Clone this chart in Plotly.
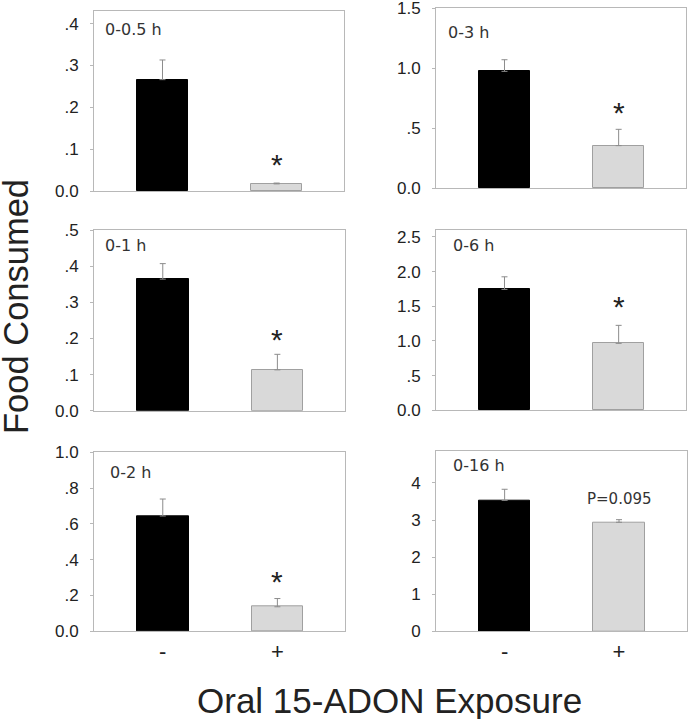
import plotly.graph_objects as go

W, H = 688, 719

# ---- data ----
panels = ["0-0.5 h", "0-1 h", "0-2 h", "0-3 h", "0-6 h", "0-16 h"]
groups = ["-", "+"]
control_means = [0.266, 0.364, 0.644, 0.972, 1.744, 3.53]
control_err = [0.047, 0.043, 0.095, 0.097, 0.181, 0.30]
adon_means = [0.017, 0.113, 0.137, 0.353, 0.965, 2.94]
adon_err = [0.002, 0.043, 0.046, 0.136, 0.26, 0.07]
sig_labels = ["*", "*", "*", "*", "*", "P=0.095"]
sig_y = [0.076, 0.211, 0.307, 0.667, 1.575, 3.57]
y_max = [0.43, 0.5, 1.0, 1.5, 2.6, 4.87]
y_tickvals = [
    [0, 0.1, 0.2, 0.3, 0.4],
    [0, 0.1, 0.2, 0.3, 0.4, 0.5],
    [0, 0.2, 0.4, 0.6, 0.8, 1.0],
    [0, 0.5, 1.0, 1.5],
    [0, 0.5, 1.0, 1.5, 2.0, 2.5],
    [0, 1, 2, 3, 4],
]
y_ticktext = [
    ["0.0", ".1", ".2", ".3", ".4"],
    ["0.0", ".1", ".2", ".3", ".4", ".5"],
    ["0.0", ".2", ".4", ".6", ".8", "1.0"],
    ["0.0", ".5", "1.0", "1.5"],
    ["0.0", ".5", "1.0", "1.5", "2.0", "2.5"],
    ["0", "1", "2", "3", "4"],
]
x_title = "Oral 15-ADON Exposure"
y_title = "Food Consumed"

# ---- layout geometry (pixels) ----
# (left, right, top, bottom) frame of each panel
frames = [
    (94, 344, 11, 191),
    (94, 345, 230, 410.7),
    (94, 345, 452.3, 631.3),
    (436, 686, 8, 188),
    (436, 686, 230, 410.3),
    (436, 686.5, 450.7, 631.3),
]
label_pos = [(103, 30), (103, 245), (108, 472), (446, 32), (451, 245), (451, 465)]

FRAME = "#b8b8b8"
TXT = "#222222"
FONT = "Liberation Sans, Arial, sans-serif"

fig = go.Figure()
layout = {}
annotations = []
for i in range(6):
    sfx = "" if i == 0 else str(i + 1)
    xa, ya = "x" + sfx, "y" + sfx
    L, R, T, B = frames[i]
    fig.add_trace(go.Bar(
        x=[0, 1], y=[control_means[i], adon_means[i]],
        width=0.45,
        marker=dict(color=["#000000", "#d9d9d9"],
                    line=dict(color=["#000000", "#a0a0a0"], width=1)),
        error_y=dict(type="data", symmetric=False,
                     array=[control_err[i], adon_err[i]], arrayminus=[0, 0],
                     color="#8c8c8c", thickness=1, width=3),
        xaxis=xa, yaxis=ya, showlegend=False, hoverinfo="skip",
    ))
    bottom_row = i in (2, 5)
    layout["xaxis" + sfx] = dict(
        domain=[L / W, R / W], anchor=ya, range=[-0.6, 1.59],
        showline=True, mirror=True, linecolor=FRAME, linewidth=1,
        showgrid=False, zeroline=False, ticks="",
        tickvals=[0, 1], ticktext=groups if bottom_row else ["", ""],
        showticklabels=bottom_row, automargin=False,
        tickfont=dict(size=22, color=TXT, family=FONT),
        fixedrange=True,
    )
    layout["yaxis" + sfx] = dict(
        domain=[1 - B / H, 1 - T / H], anchor=xa, range=[0, y_max[i]],
        showline=True, mirror=True, linecolor=FRAME, linewidth=1,
        showgrid=False, zeroline=False, automargin=False,
        ticks="outside", ticklen=3, tickcolor=FRAME,
        tickvals=y_tickvals[i], ticktext=y_ticktext[i],
        tickfont=dict(size=17, color=TXT, family=FONT),
        ticklabelstandoff=8, ticklabeloverflow="allow",
        fixedrange=True,
    )
    lx, ly = label_pos[i]
    annotations.append(dict(
        x=lx / W, y=1 - ly / H, xref="paper", yref="paper",
        xanchor="left", yanchor="middle", showarrow=False,
        text=panels[i], font=dict(size=16, color="#333333", family="DejaVu Sans"),
    ))
    if sig_labels[i] == "*":
        annotations.append(dict(
            x=1, y=sig_y[i], xref=xa, yref=ya, showarrow=False,
            xanchor="center", yanchor="middle", yshift=-5,
            text="*", font=dict(size=30, color=TXT, family=FONT),
        ))
    else:
        annotations.append(dict(
            x=1, y=sig_y[i], xref=xa, yref=ya, showarrow=False,
            xanchor="center", yanchor="middle",
            text=sig_labels[i], font=dict(size=15, color="#333333", family="DejaVu Sans"),
        ))

annotations.append(dict(
    x=389.5 / W, y=1 - 700 / H, xref="paper", yref="paper", showarrow=False,
    xanchor="center", yanchor="middle", text=x_title,
    font=dict(size=35, color=TXT, family=FONT),
))
annotations.append(dict(
    x=16 / W, y=1 - 307 / H, xref="paper", yref="paper", showarrow=False,
    xanchor="center", yanchor="middle", text=y_title, textangle=-90,
    font=dict(size=34.5, color=TXT, family=FONT),
))

fig.update_layout(
    width=W, height=H, margin=dict(l=0, r=0, t=0, b=0, autoexpand=False),
    paper_bgcolor="white", plot_bgcolor="white",
    annotations=annotations, bargap=0, **layout,
)
fig.write_html(
    "out.html",
    config={"displayModeBar": False},
    post_script="document.body.style.margin='0';document.body.style.overflow='hidden';",
)
